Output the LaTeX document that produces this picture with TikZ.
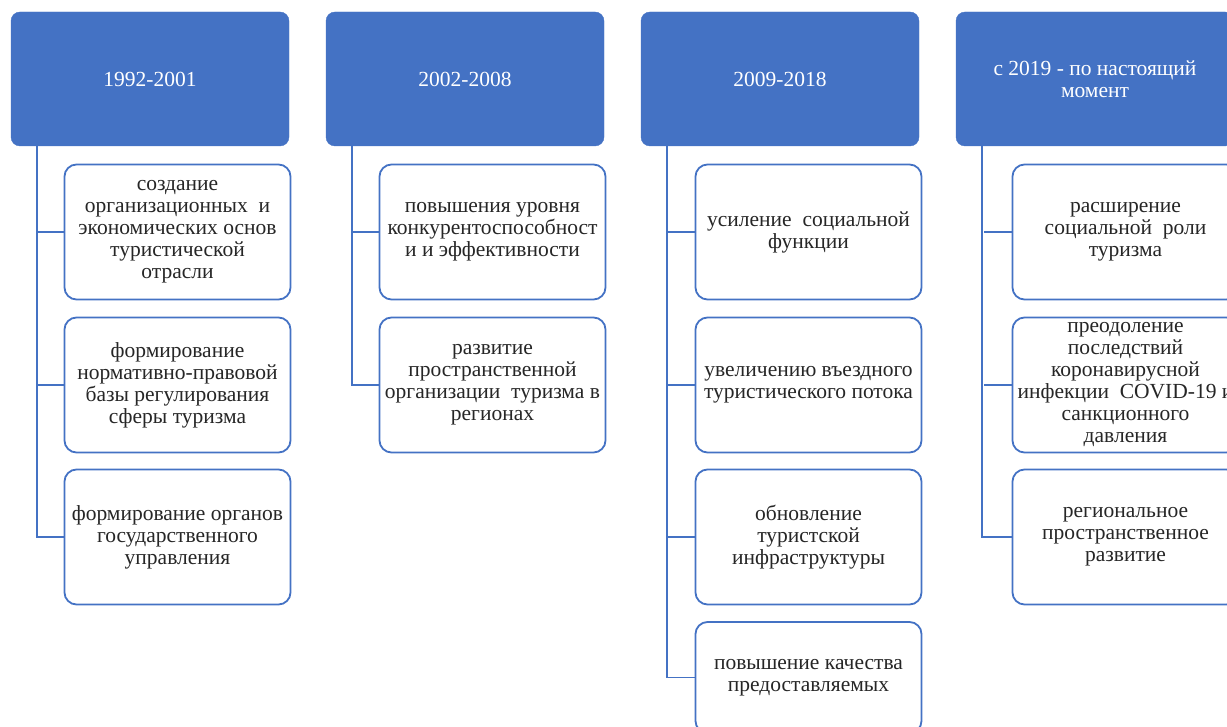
\documentclass[tikz,border=0pt]{standalone}
\usepackage{fontspec}
\setmainfont{Liberation Serif}
\usetikzlibrary{positioning}
\definecolor{hdrblue}{HTML}{4472C4}
\tikzset{
    period/.style={draw=hdrblue, fill=hdrblue, rounded corners=9pt, minimum width=278pt, minimum height=134pt,
        text=white, align=center, font=\fontsize{21.5}{22}\selectfont},
    task/.style={draw=hdrblue, line width=1.8pt, fill=white, rounded corners=12pt, minimum width=226pt, minimum height=135pt,
        text=black!85, align=center, inner sep=1pt, font=\fontsize{21.5}{22}\selectfont},
    branch/.style={draw=hdrblue, line width=1.8pt}
}
\begin{document}
\begin{tikzpicture}[x=1pt, y=-1pt]
\useasboundingbox (0,0) rectangle (1227,727);
\clip (0,0) rectangle (1227,727);

% periods
\node[period] (P1) at (150,79) {1992-2001};
\node[period] (P2) at (465,79) {2002-2008};
\node[period] (P3) at (780,79) {2009-2018};
\node[period] (P4) at (1095,79) {с 2019 - по настоящий\\ момент};

% tasks
\node[task] (T11) at (177.5,232) {создание\\ организационных\ \ и\\ экономических основ\\ туристической\\ отрасли};
\node[task] (T12) at (177.5,385) {формирование\\ нормативно-правовой\\ базы регулирования\\ сферы туризма};
\node[task] (T13) at (177.5,537) {формирование органов\\ государственного\\ управления};

\node[task] (T21) at (492.5,232) {повышения уровня\\ конкурентоспособност\\ и и эффективности};
\node[task] (T22) at (492.5,385) {развитие\\ пространственной\\ организации\ \ туризма в\\ регионах};

\node[task] (T31) at (808.5,232) {усиление\ \ социальной\\ функции};
\node[task] (T32) at (808.5,385) {увеличению въездного\\ туристического потока};
\node[task] (T33) at (808.5,537) {обновление\\ туристской\\ инфраструктуры};
\node[task, minimum height=111pt] (T34) at (808.5,677.5) {повышение качества\\ предоставляемых};

\node[task] (T41) at (1125.5,232) {расширение\\ социальной\ \ роли\\ туризма};
\node[task] (T42) at (1125.5,385) {преодоление\\ последствий\\ коронавирусной\\ инфекции\ \ COVID-19 и\\ санкционного\\ давления};
\node[task] (T43) at (1125.5,537) {региональное\\ пространственное\\ развитие};

% trunks
\foreach \p/\last in {1/3, 2/2, 3/4, 4/3}
{
    \coordinate (S\p) at ([xshift=26pt]P\p.south west);
    \draw[branch] (S\p) |- (T\p\last.west);
}
\foreach \t in {11,12,21,31,32,33,41,42}
{
    \draw[branch] (T\t.west) -- +(-28,0);
}
\end{tikzpicture}
\end{document}
